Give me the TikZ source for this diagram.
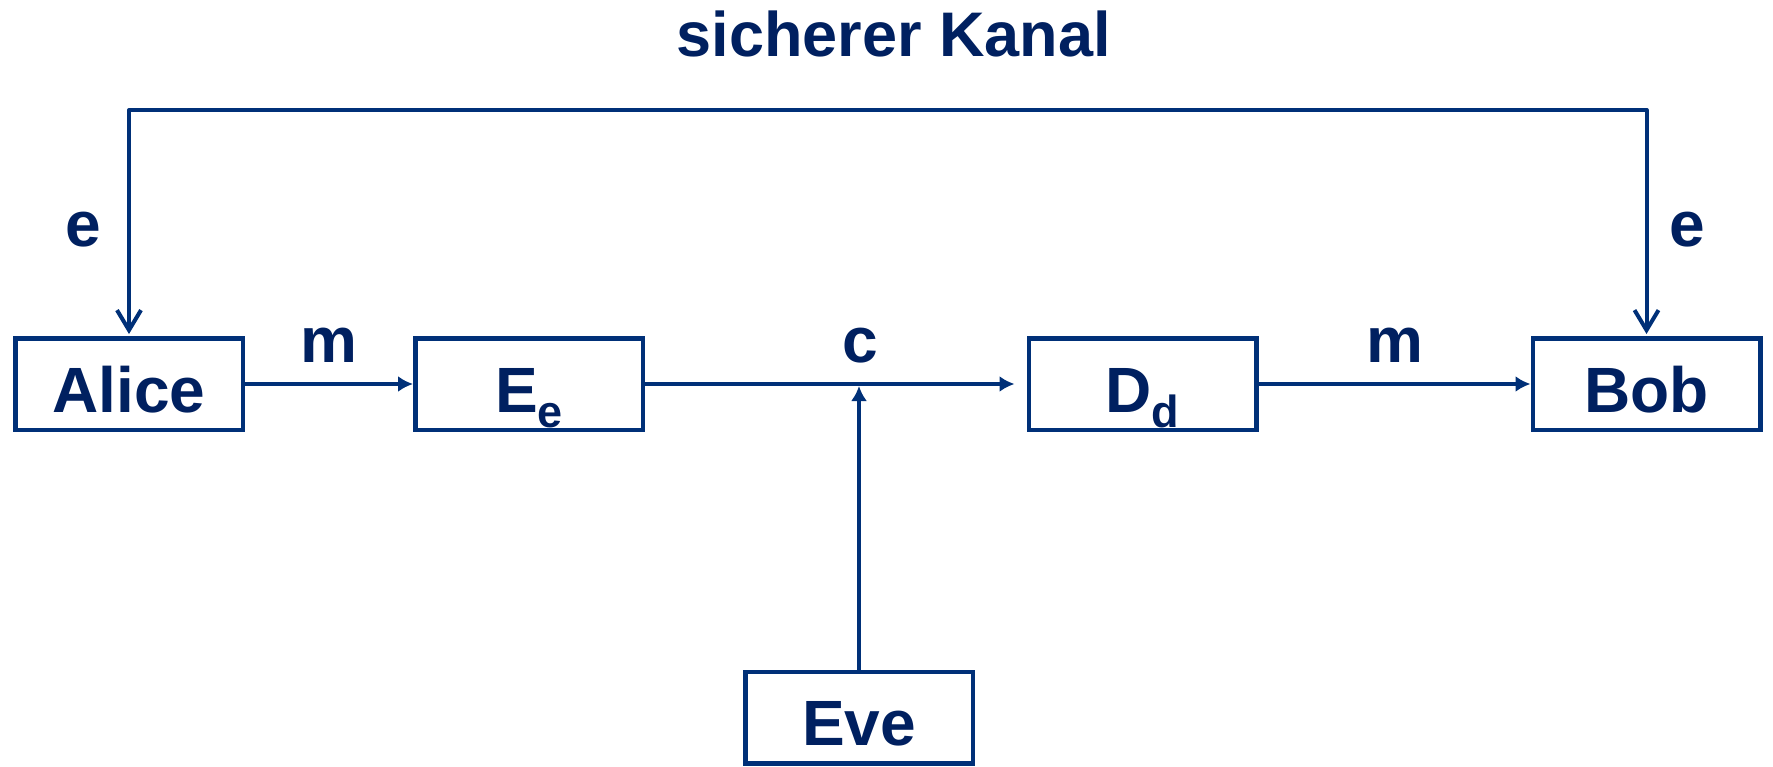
\documentclass[tikz,border=0pt]{standalone}
\usepackage{fontspec}
\setmainfont{Liberation Sans}
\usetikzlibrary{arrows.meta}
\definecolor{navytext}{RGB}{0,32,96}
\definecolor{navyline}{RGB}{0,48,120}
% lowered, smaller index letter (E_e, D_d)
\newcommand\lowsub[1]{\raisebox{-15pt}{\fontsize{45}{50}\selectfont #1}}
\begin{document}
\begin{tikzpicture}[x=1pt,y=-1pt,
  box/.style={draw=navyline, line width=4.5pt, minimum width=227.5pt,
    minimum height=91.5pt, inner sep=0pt, text=navytext,
    font=\fontsize{64}{70}\selectfont\bfseries, text height=60pt, text depth=4pt},
  lab/.style={text=navytext, font=\fontsize{64}{70}\selectfont\bfseries,
    inner sep=0pt, anchor=base},
  conn/.style={draw=navyline, line width=4pt},
  solidtip/.style={-{Latex[length=15pt,width=16pt]}},
  barbtips/.style={{Straight Barb[length=20pt,width=24pt]}-{Straight Barb[length=20pt,width=24pt]}}
]
\useasboundingbox (0,0) rectangle (1773,766);

% boxes
\node[box] (alice) at (129,384) {Alice};
\node[box] (enc)   at (529,384) {E\lowsub{e}};
\node[box] (dec)   at (1142.5,384) {D\lowsub{d}};
\node[box] (bob)   at (1646.5,384) {Bob};
\node[box] (eve)   at (859,717.5) {Eve};

% labels
\node[lab, font=\fontsize{63}{70}\selectfont\bfseries] (kanal) at (894,56.5) {sicherer Kanal};
\node[lab] (eleft)  at (83.5,246) {e};
\node[lab] (eright) at (1687,246) {e};
\node[lab] (mleft)  at (329,362) {m};
\node[lab] (ctext)  at (860,362) {c};
\node[lab] (mright) at (1395,362) {m};

% secure channel carrying the key
\coordinate (topl) at (alice.north |- 0,110);
\coordinate (topr) at (bob.north |- 0,110);
\draw[conn, barbtips, line join=round, shorten <=2pt, shorten >=2pt]
  (alice.north) -- (topl) -- (topr) -- (bob.north);

% message path
\draw[conn, solidtip] (alice.east) -- (enc.west);
\draw[conn, solidtip, shorten >=12pt] (enc.east) -- (dec.west);
\draw[conn, solidtip] (dec.east) -- (bob.west);

% eavesdropper taps the ciphertext
\coordinate (tap) at (eve.north |- enc.east);
\draw[conn, solidtip, shorten >=2pt] (eve.north) -- (tap);
\end{tikzpicture}
\end{document}
